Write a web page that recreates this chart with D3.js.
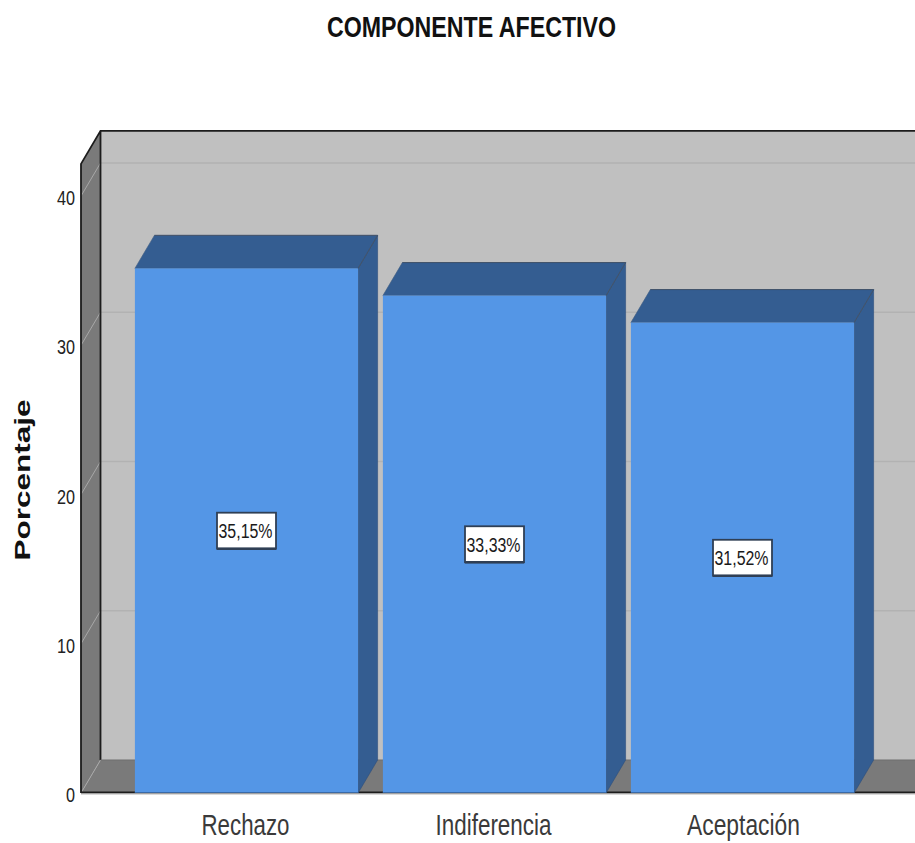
<!DOCTYPE html>
<html><head><meta charset="utf-8">
<script src="https://cdnjs.cloudflare.com/ajax/libs/d3/7.8.5/d3.min.js"></script>
<style>html,body{margin:0;padding:0;background:#fff;overflow:hidden}svg{display:block}text{font-family:"Liberation Sans",Arial,sans-serif}</style>
</head><body><svg id="c" width="915" height="843"></svg>
<script>
const categories = ["Rechazo","Indiferencia","Aceptación"];
const values = [35.15,33.33,31.52];
const valueLabels = ["35,15%","33,33%","31,52%"];
const yTicks = [0,10,20,30,40];
const titleText = "COMPONENTE AFECTIVO";
const yTitle = "Porcentaje";

const svg = d3.select("#c");
const W = 915, dx = 19.5, dy = -33, left = 81, base = 793;
const y = d3.scaleLinear().domain([0,40]).range([base,196]);
const yMax = 42.15;
const x = d3.scaleBand().domain(categories).range([122.5,866.5]).paddingInner(0.1).paddingOuter(0.05);
const poly = pts => pts.map(p=>p.join(",")).join(" ");
const plotTop = y(yMax);

// back wall
svg.append("rect").attr("x",left+dx).attr("y",plotTop+dy).attr("width",W-left-dx).attr("height",base-plotTop).attr("fill","#c0c0c0");
// left wall
svg.append("polygon").attr("points",poly([[left,plotTop],[left+dx,plotTop+dy],[left+dx,base+dy],[left,base]])).attr("fill","#7a7a7a");
// floor
svg.append("polygon").attr("points",poly([[left,base],[left+dx,base+dy],[W,base+dy],[W,base]])).attr("fill","#7a7a7a");
// gridlines
yTicks.forEach(t=>{
  if(t>0) svg.append("line").attr("x1",left+dx).attr("x2",W).attr("y1",y(t)+dy).attr("y2",y(t)+dy).attr("stroke","#b2b2b2").attr("stroke-width",1.6);
  svg.append("line").attr("x1",left).attr("x2",left+dx).attr("y1",y(t)).attr("y2",y(t)+dy).attr("stroke","#a8a8a8").attr("stroke-width",1);
});
// wall outlines
svg.append("path").attr("d",`M${left},${base}V${plotTop}L${left+dx},${plotTop+dy}H${W}M${left+dx},${plotTop+dy}V${base+dy}`)
  .attr("fill","none").attr("stroke","#1c1c1c").attr("stroke-width",1.8);
svg.append("line").attr("x1",left+dx).attr("x2",W).attr("y1",base+dy).attr("y2",base+dy).attr("stroke","#6e6e6e").attr("stroke-width",1);
svg.append("line").attr("x1",left).attr("x2",W).attr("y1",base-0.5).attr("y2",base-0.5).attr("stroke","#1c1c1c").attr("stroke-width",2);
svg.append("line").attr("x1",left).attr("x2",W).attr("y1",base+1).attr("y2",base+1).attr("stroke","#b5b5b5").attr("stroke-width",1);

// bars
const bars = svg.append("g").selectAll("g").data(categories).join("g");
bars.each(function(c,i){
  const g = d3.select(this), x0 = x(c), w = x.bandwidth(), yv = y(values[i]);
  g.append("polygon").attr("points",poly([[x0+w,yv],[x0+w+dx,yv+dy],[x0+w+dx,base+dy],[x0+w,base]])).attr("fill","#345d91").attr("stroke","#2d4f7c").attr("stroke-width",.6);
  g.append("polygon").attr("points",poly([[x0,yv],[x0+dx,yv+dy],[x0+w+dx,yv+dy],[x0+w,yv]])).attr("fill","#345d91").attr("stroke","#3d5a80").attr("stroke-width",.6);
  g.append("path").attr("d",`M${x0+w},${yv}L${x0+w+dx},${yv+dy}H${x0+dx}`).attr("fill","none").attr("stroke","#42536a").attr("stroke-width",1);
  g.append("rect").attr("x",x0).attr("y",yv).attr("width",w).attr("height",base-yv).attr("fill","#5496e6");
  g.append("line").attr("x1",x0).attr("x2",x0+w).attr("y1",base-.5).attr("y2",base-.5).attr("stroke","#3a6aa6").attr("stroke-width",1);
  const cx = x0+w/2, cy = (yv+base)/2;
  g.append("rect").attr("x",cx-29.5).attr("y",cy-18).attr("width",59).attr("height",36).attr("fill","#fff").attr("stroke","#2f3f55").attr("stroke-width",1.8);
  g.append("line").attr("x1",cx-29.5).attr("x2",cx+29.5).attr("y1",cy+18).attr("y2",cy+18).attr("stroke","#2f3f55").attr("stroke-width",2.6);
  g.append("text").attr("x",cx-1).attr("y",cy+7.5).attr("text-anchor","middle").attr("font-size",20)
    .attr("textLength",54).attr("lengthAdjust","spacingAndGlyphs").attr("fill","#1a1a1a").text(valueLabels[i]);
});

// y tick labels
svg.append("g").selectAll("text").data(yTicks).join("text")
  .attr("x",75).attr("y",d=>y(d)+9).attr("text-anchor","end").attr("font-size",20)
  .attr("textLength",d=>d===0?9:18).attr("lengthAdjust","spacingAndGlyphs").attr("fill","#222").text(d=>d);
// category labels
const catW = [88,116,113];
const catShift = [-1,-1,1];
svg.append("g").selectAll("text").data(categories).join("text")
  .attr("x",(c,i)=>x(c)+x.bandwidth()/2+catShift[i]).attr("y",835).attr("text-anchor","middle").attr("font-size",29)
  .attr("textLength",(c,i)=>catW[i]).attr("lengthAdjust","spacingAndGlyphs").attr("fill","#3a3a3a").text(c=>c);
// titles
svg.append("text").attr("x",471.5).attr("y",37).attr("text-anchor","middle").attr("font-size",29).attr("font-weight","bold")
  .attr("textLength",289).attr("lengthAdjust","spacingAndGlyphs").attr("fill","#111").text(titleText);
svg.append("text").attr("transform","translate(30,480) rotate(-90)").attr("text-anchor","middle").attr("font-size",22).attr("font-weight","bold")
  .attr("textLength",161).attr("lengthAdjust","spacingAndGlyphs").attr("fill","#111").text(yTitle);
</script></body></html>
